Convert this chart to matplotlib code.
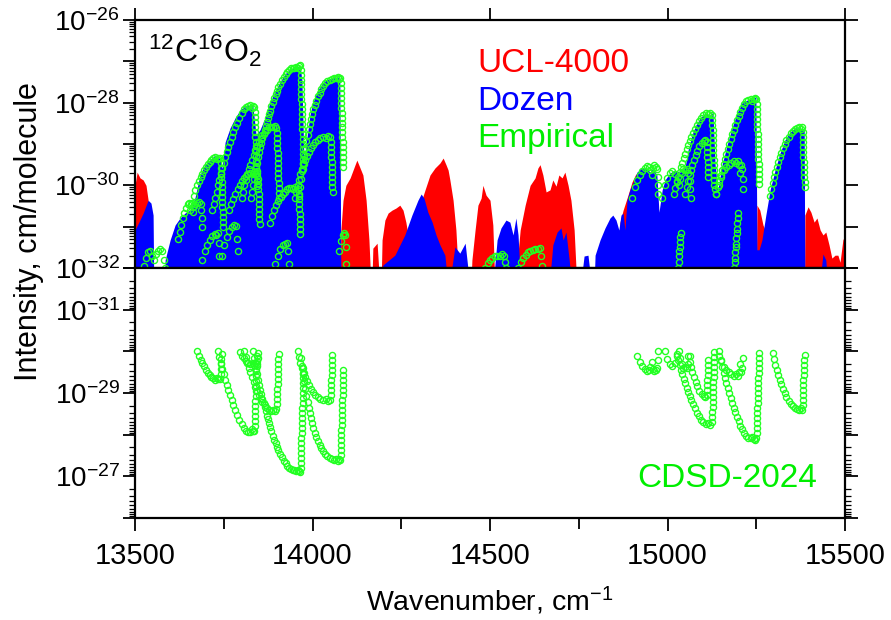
import numpy as np
import matplotlib.pyplot as plt
from matplotlib.ticker import FixedLocator, FuncFormatter, LogLocator, MultipleLocator, NullFormatter

plt.rcParams['font.family'] = ['Liberation Sans', 'DejaVu Sans']
plt.rcParams['mathtext.fontset'] = 'custom'
plt.rcParams['mathtext.rm'] = 'Liberation Sans'
plt.rcParams['mathtext.it'] = 'Liberation Sans:italic'
plt.rcParams['mathtext.bf'] = 'Liberation Sans:bold'

# ---- data: wavenumber (cm-1) and log10(intensity) ----
# UCL-4000 envelope (red)
ucl_wn = [13500, 13506, 13514, 13523, 13531, 13537, 13542, 13548, 14077, 14080,
          14086, 14094, 14106, 14120, 14125, 14134, 14142, 14151, 14159, 14165,
          14167, 14170, 14182, 14190, 14193, 14196, 14204, 14213, 14224, 14235,
          14246, 14255, 14263, 14269, 14280, 14292, 14303, 14317, 14331, 14345,
          14359, 14368, 14376, 14382, 14387, 14396, 14404, 14413, 14446, 14449,
          14458, 14466, 14475, 14480, 14489, 14500, 14508, 14514, 14573, 14576,
          14585, 14599, 14613, 14627, 14635, 14641, 14649, 14658, 14669, 14677,
          14686, 14694, 14703, 14711, 14720, 14728, 14737, 14745, 14862, 14866,
          14875, 14889, 14900, 14911, 14914, 14920, 15250, 15252, 15260, 15269,
          15277, 15282, 15386, 15387, 15396, 15404, 15413, 15421, 15430, 15438,
          15446, 15455, 15463, 15472, 15480, 15486, 15494, 15500]
ucl_lg = [-30.0, -29.68, -29.82, -29.87, -30.0, -30.36, -31.08, -32.5, -32.5, -31.08,
          -30.36, -30.0, -29.82, -29.5, -29.39, -29.58, -29.75, -30.36, -31.32, -32.5,
          -32.5, -31.52, -31.4, -32.5, -32.5, -31.32, -30.84, -30.67, -30.6, -30.55,
          -30.48, -30.6, -30.89, -31.2, -30.79, -30.65, -30.48, -30.11, -29.75, -29.58,
          -29.46, -29.34, -29.5, -29.63, -29.87, -30.36, -31.08, -32.5, -32.5, -31.81,
          -31.08, -30.48, -30.31, -30.0, -30.24, -30.36, -30.96, -32.5, -32.5, -31.93,
          -31.08, -30.48, -30.0, -29.82, -29.58, -29.5, -29.75, -30.16, -30.11, -29.87,
          -30.02, -29.75, -29.82, -29.68, -30.0, -30.36, -31.08, -32.5, -32.5, -30.9,
          -30.6, -30.23, -29.92, -29.72, -29.75, -32.5, -32.5, -30.48, -30.6, -30.96,
          -31.13, -32.5, -32.5, -30.72, -30.52, -30.65, -30.89, -30.79, -31.08, -31.2,
          -31.13, -31.44, -31.76, -31.69, -31.69, -31.86, -31.32, -31.2]

# Dozen envelope (blue)
dozen_wn = [13500, 13511, 13523, 13537, 13545, 13551, 13553, 13582, 13585, 13599,
            13613, 13627, 13641, 13655, 13669, 13683, 13697, 13711, 13725, 13739,
            13745, 13754, 13768, 13782, 13796, 13810, 13824, 13832, 13841, 13852,
            13866, 13880, 13894, 13908, 13923, 13937, 13951, 13965, 13970, 13976,
            13985, 13993, 14001, 14015, 14030, 14044, 14058, 14072, 14077, 14080,
            14196, 14198, 14232, 14260, 14280, 14297, 14306, 14314, 14325, 14337,
            14348, 14359, 14373, 14382, 14384, 14401, 14415, 14430, 14444, 14508,
            14520, 14531, 14545, 14556, 14565, 14573, 14579, 14587, 14666, 14677,
            14689, 14700, 14706, 14714, 14723, 14731, 14754, 14765, 14776, 14787,
            14793, 14796, 14810, 14824, 14838, 14846, 14855, 14863, 14869, 14875,
            14880, 14886, 14894, 14906, 14914, 14928, 14939, 14951, 14959, 14970,
            14976, 14985, 14993, 15007, 15021, 15035, 15049, 15058, 15069, 15080,
            15092, 15106, 15120, 15128, 15134, 15142, 15154, 15168, 15182, 15196,
            15210, 15224, 15238, 15249, 15252, 15258, 15266, 15277, 15289, 15303,
            15317, 15331, 15345, 15359, 15373, 15385, 15387, 15427, 15438, 15446,
            15452, 15500]
dozen_lg = [-31.08, -30.89, -30.67, -30.36, -30.43, -30.72, -32.5, -32.5, -31.8, -31.32,
            -30.96, -30.79, -30.67, -30.6, -30.3, -29.75, -29.5, -29.39, -29.27, -29.35,
            -29.6, -28.95, -28.61, -28.37, -28.18, -28.08, -28.06, -28.08, -28.78, -28.66,
            -28.37, -28.0, -27.74, -27.5, -27.3, -27.19, -27.14, -27.11, -27.45, -29.4,
            -28.8, -28.3, -28.0, -27.7, -27.5, -27.43, -27.4, -27.38, -27.4, -32.5,
            -32.5, -31.93, -31.69, -31.2, -30.72, -30.36, -30.21, -30.31, -30.65, -30.89,
            -31.2, -31.44, -31.69, -32.5, -32.5, -31.49, -31.64, -31.4, -32.5, -32.5,
            -31.32, -31.03, -30.84, -30.89, -31.2, -30.79, -31.2, -32.5, -32.5, -31.44,
            -31.13, -31.03, -31.32, -31.13, -31.8, -32.5, -32.5, -31.71, -31.69, -32.5,
            -32.5, -31.69, -31.32, -31.03, -30.79, -30.72, -30.84, -31.08, -30.72, -30.67,
            -31.08, -30.36, -30.11, -29.87, -29.68, -29.58, -29.58, -29.68, -29.58, -29.75,
            -30.65, -30.11, -29.87, -29.7, -29.63, -29.68, -29.58, -29.15, -28.78, -28.54,
            -28.37, -28.25, -28.3, -28.23, -29.5, -30.11, -29.5, -29.02, -28.61, -28.25,
            -28.0, -27.94, -27.9, -27.86, -31.56, -31.56, -31.32, -30.72, -30.11, -29.63,
            -29.22, -28.9, -28.71, -28.61, -28.61, -28.66, -32.5, -32.5, -31.66, -31.81,
            -32.5, -32.5]

# Empirical line lists (green circles), one list per band branch
emp_wn = [
    [13525, 13531, 13537, 13543, 13548, 13553, 13559, 13565, 13571, 13577, 13582, 13585],
    [13622, 13626, 13630, 13634, 13638, 13643, 13648, 13653, 13658, 13662, 13664, 13666,
     13670, 13675, 13680, 13685, 13687, 13689, 13690],
    [13655, 13660, 13665, 13670, 13675, 13680, 13685, 13690, 13695, 13700, 13705, 13710,
     13715, 13720, 13725, 13730, 13735, 13740, 13742, 13742, 13743, 13743, 13744, 13744,
     13745, 13745, 13746, 13746, 13747, 13747, 13748, 13748],
    [13690, 13697, 13704, 13711, 13718, 13724, 13729, 13733, 13736, 13738],
    [13718, 13722, 13726, 13730, 13734, 13738, 13742, 13746, 13750, 13754, 13758, 13762,
     13767, 13772, 13777, 13782, 13788, 13794, 13800, 13806, 13812, 13818, 13824, 13829,
     13833, 13836, 13837, 13837, 13838, 13838, 13839, 13839, 13840, 13840, 13841, 13841,
     13842, 13842, 13843, 13843, 13844, 13844],
    [13745, 13752, 13759, 13766, 13773, 13779, 13784, 13787, 13789],
    [13765, 13771, 13777, 13783, 13789, 13795, 13801, 13807, 13813, 13819, 13825, 13831,
     13836, 13841, 13845, 13846, 13847, 13847, 13848, 13848, 13849, 13849, 13850, 13850,
     13851],
    [13800, 13804, 13808, 13812, 13816, 13820, 13824, 13829, 13834, 13839, 13844, 13849,
     13854, 13859, 13865, 13871, 13877, 13883, 13889, 13894, 13898, 13900, 13900, 13901,
     13901, 13902, 13902, 13903, 13903, 13904, 13904, 13905, 13905, 13906, 13906],
    [13826, 13829, 13832, 13835, 13838, 13841, 13844, 13847, 13850, 13853, 13856, 13859,
     13862, 13865, 13868, 13871, 13874, 13877, 13880, 13884, 13888, 13892, 13896, 13900,
     13904, 13909, 13914, 13919, 13924, 13929, 13934, 13939, 13944, 13949, 13954, 13958,
     13962, 13965, 13967, 13968, 13968, 13968, 13969, 13969, 13969, 13970, 13970, 13970,
     13971, 13971, 13971, 13972, 13972, 13972, 13973, 13973, 13973, 13974, 13974],
    [13880, 13886, 13892, 13898, 13904, 13910, 13916, 13922, 13928, 13934, 13940, 13946,
     13952, 13958, 13961, 13962, 13963, 13963, 13964, 13964, 13965, 13965, 13966],
    [13895, 13902, 13909, 13916, 13922, 13928, 13932, 13934],
    [13950, 13954, 13958, 13962, 13966, 13970, 13975, 13980, 13985, 13990, 13996, 14002,
     14008, 14015, 14022, 14030, 14038, 14045, 14050, 14052, 14052, 14053, 14053, 14054,
     14054, 14055, 14055, 14056, 14056, 14057],
    [13962, 13965, 13968, 13971, 13974, 13977, 13980, 13983, 13986, 13989, 13992, 13995,
     13998, 14002, 14006, 14010, 14015, 14020, 14025, 14030, 14036, 14042, 14048, 14054,
     14060, 14066, 14071, 14075, 14078, 14079, 14079, 14080, 14080, 14081, 14081, 14082,
     14082, 14083, 14083, 14084, 14084, 14085, 14085, 14086, 14086, 14087, 14087],
    [14075, 14080, 14085, 14089, 14092, 14094, 14095],
    [14486, 14493, 14500, 14507, 14514, 14521, 14528, 14534, 14540, 14543, 14545],
    [14579, 14586, 14593, 14600, 14607, 14614, 14621, 14628, 14635, 14641, 14645, 14647],
    [14900, 14908, 14915, 14922, 14929, 14936, 14942, 14947, 14951, 14955, 14959, 14963,
     14967, 14970, 14972, 14973, 14974],
    [14985, 14992, 14999, 15006, 15013, 15020, 15026, 15031, 15035, 15040, 15045, 15050,
     15055, 15059, 15062, 15064, 15065],
    [15030, 15031, 15032, 15033, 15034, 15035, 15036, 15037],
    [15018, 15022, 15026, 15030, 15034, 15038, 15042, 15046, 15050, 15054, 15058, 15062,
     15067, 15072, 15077, 15083, 15089, 15095, 15101, 15108, 15115, 15121, 15125, 15126,
     15126, 15127, 15127, 15128, 15128, 15129, 15129, 15130, 15130, 15131, 15131, 15132,
     15132, 15133],
    [15050, 15054, 15058, 15062, 15066, 15070, 15074, 15079, 15084, 15090, 15096, 15102,
     15107, 15110, 15111, 15112, 15112, 15113, 15113, 15114, 15114],
    [15138, 15145, 15152, 15159, 15166, 15173, 15180, 15187, 15193, 15198, 15202, 15205,
     15208, 15210, 15212, 15213],
    [15138, 15142, 15146, 15150, 15154, 15158, 15162, 15166, 15170, 15174, 15178, 15182,
     15186, 15190, 15195, 15200, 15205, 15210, 15216, 15222, 15228, 15234, 15239, 15243,
     15247, 15250, 15251, 15251, 15252, 15252, 15253, 15253, 15254, 15254, 15255, 15255,
     15256, 15256, 15257, 15257, 15258, 15258, 15259],
    [15188, 15189, 15190, 15191, 15192, 15193, 15194, 15195, 15196, 15197, 15198, 15199],
    [15288, 15292, 15296, 15300, 15304, 15308, 15312, 15316, 15320, 15325, 15330, 15335,
     15341, 15347, 15353, 15359, 15365, 15371, 15376, 15380, 15381, 15381, 15382, 15382,
     15383, 15383, 15384, 15384, 15385, 15385, 15386, 15386],
]
emp_lg = [
    [-31.95, -31.75, -31.62, -31.58, -31.7, -31.8, -31.65, -31.58, -31.55, -31.6, -31.8, -32.0],
    [-31.3, -31.12, -30.95, -30.8, -30.67, -30.55, -30.46, -30.42, -30.45, -30.52, -30.65, -30.5,
     -30.44, -30.42, -30.4, -30.45, -30.6, -30.8, -31.0],
    [-30.6, -30.42, -30.26, -30.12, -30.0, -29.9, -29.8, -29.72, -29.64, -29.56, -29.49, -29.43,
     -29.38, -29.35, -29.32, -29.36, -29.33, -29.34, -29.45, -29.57, -29.69, -29.81, -29.93, -30.05,
     -30.17, -30.29, -30.41, -30.53, -30.65, -30.77, -30.89, -31.0],
    [-31.8, -31.6, -31.45, -31.32, -31.22, -31.18, -31.2, -31.15, -31.4, -31.7],
    [-30.6, -30.45, -30.3, -30.15, -30.0, -29.86, -29.72, -29.58, -29.45, -29.32, -29.2, -29.08,
     -28.95, -28.83, -28.72, -28.6, -28.48, -28.36, -28.25, -28.16, -28.1, -28.07, -28.06, -28.14,
     -28.08, -28.1, -28.22, -28.34, -28.46, -28.58, -28.7, -28.82, -28.94, -29.06, -29.18, -29.3,
     -29.42, -29.54, -29.66, -29.78, -29.9, -30.02],
    [-31.7, -31.45, -31.25, -31.1, -31.0, -30.95, -30.98, -31.3, -31.6],
    [-30.6, -30.45, -30.32, -30.2, -30.08, -29.98, -29.9, -29.83, -29.77, -29.73, -29.7, -29.72,
     -29.68, -29.72, -29.7, -29.85, -29.97, -30.09, -30.21, -30.33, -30.45, -30.57, -30.69, -30.81,
     -30.93],
    [-30.3, -30.15, -30.0, -29.86, -29.73, -29.61, -29.5, -29.38, -29.26, -29.15, -29.05, -28.96,
     -28.87, -28.79, -28.71, -28.65, -28.6, -28.58, -28.6, -28.57, -28.62, -28.74, -28.86, -28.98,
     -29.1, -29.22, -29.34, -29.46, -29.58, -29.7, -29.82, -29.94, -30.06, -30.18, -30.3],
    [-30.3, -30.15, -30.0, -29.85, -29.72, -29.58, -29.45, -29.32, -29.2, -29.08, -28.97, -28.86,
     -28.76, -28.66, -28.56, -28.46, -28.37, -28.28, -28.19, -28.08, -27.98, -27.88, -27.79, -27.71,
     -27.63, -27.54, -27.46, -27.38, -27.31, -27.25, -27.2, -27.17, -27.15, -27.16, -27.13, -27.16,
     -27.12, -27.1, -27.2, -27.32, -27.44, -27.56, -27.68, -27.8, -27.92, -28.04, -28.16, -28.28,
     -28.4, -28.52, -28.64, -28.76, -28.88, -29.0, -29.12, -29.24, -29.36, -29.48, -29.6],
    [-30.9, -30.74, -30.6, -30.48, -30.38, -30.29, -30.21, -30.15, -30.1, -30.07, -30.06, -30.08,
     -30.05, -30.1, -30.22, -30.34, -30.46, -30.58, -30.7, -30.82, -30.94, -31.06, -31.18],
    [-31.9, -31.7, -31.55, -31.45, -31.42, -31.4, -31.6, -31.9],
    [-30.3, -30.15, -30.0, -29.86, -29.73, -29.61, -29.49, -29.38, -29.28, -29.19, -29.1, -29.02,
     -28.95, -28.9, -28.86, -28.83, -28.85, -28.8, -28.84, -28.96, -29.08, -29.2, -29.32, -29.44,
     -29.56, -29.68, -29.8, -29.92, -30.04, -30.16],
    [-30.25, -30.05, -29.85, -29.65, -29.46, -29.28, -29.1, -28.93, -28.78, -28.64, -28.51, -28.39,
     -28.28, -28.16, -28.05, -27.95, -27.85, -27.76, -27.68, -27.6, -27.53, -27.48, -27.44, -27.42,
     -27.4, -27.41, -27.38, -27.42, -27.4, -27.52, -27.64, -27.76, -27.88, -28.0, -28.12, -28.24,
     -28.36, -28.48, -28.6, -28.72, -28.84, -28.96, -29.08, -29.2, -29.32, -29.44, -29.56],
    [-31.6, -31.35, -31.2, -31.15, -31.2, -31.5, -31.9],
    [-32.0, -31.88, -31.8, -31.76, -31.72, -31.7, -31.72, -31.67, -31.7, -31.85, -32.0],
    [-32.0, -31.85, -31.75, -31.68, -31.62, -31.58, -31.56, -31.53, -31.55, -31.52, -31.7, -31.95],
    [-30.3, -30.05, -29.88, -29.75, -29.65, -29.57, -29.53, -29.55, -29.62, -29.75, -29.58, -29.52,
     -29.55, -29.6, -29.8, -30.0, -30.2],
    [-30.3, -30.0, -29.82, -29.7, -29.65, -29.72, -29.9, -30.0, -29.85, -29.7, -29.6, -29.62,
     -29.6, -29.7, -29.9, -30.1, -30.3],
    [-32.0, -31.85, -31.72, -31.6, -31.48, -31.36, -31.25, -31.15],
    [-30.2, -30.06, -29.93, -29.8, -29.68, -29.56, -29.45, -29.34, -29.23, -29.13, -29.03, -28.93,
     -28.83, -28.73, -28.63, -28.53, -28.44, -28.36, -28.3, -28.26, -28.28, -28.24, -28.3, -28.42,
     -28.54, -28.66, -28.78, -28.9, -29.02, -29.14, -29.26, -29.38, -29.5, -29.62, -29.74, -29.86,
     -29.98, -30.1],
    [-30.2, -30.04, -29.89, -29.75, -29.62, -29.5, -29.39, -29.27, -29.16, -29.06, -28.98, -28.93,
     -28.9, -28.95, -29.07, -29.19, -29.31, -29.43, -29.55, -29.67, -29.79],
    [-30.2, -30.0, -29.8, -29.63, -29.55, -29.5, -29.45, -29.42, -29.45, -29.4, -29.5, -29.7,
     -29.5, -29.6, -29.85, -30.1],
    [-30.2, -30.05, -29.9, -29.76, -29.62, -29.49, -29.36, -29.23, -29.11, -28.99, -28.87, -28.76,
     -28.65, -28.54, -28.43, -28.32, -28.22, -28.13, -28.04, -27.97, -27.93, -27.91, -27.95, -27.9,
     -27.88, -27.92, -28.04, -28.16, -28.28, -28.4, -28.52, -28.64, -28.76, -28.88, -29.0, -29.12,
     -29.24, -29.36, -29.48, -29.6, -29.72, -29.84, -29.96],
    [-32.0, -31.86, -31.75, -31.62, -31.5, -31.41, -31.27, -31.15, -31.05, -30.9, -30.8, -30.66],
    [-30.25, -30.1, -29.95, -29.81, -29.68, -29.55, -29.43, -29.32, -29.21, -29.1, -29.0, -28.91,
     -28.82, -28.74, -28.68, -28.63, -28.62, -28.6, -28.63, -28.6, -28.72, -28.84, -28.96, -29.08,
     -29.2, -29.32, -29.44, -29.56, -29.68, -29.8, -29.92, -30.04],
]

# CDSD-2024 lines shown in the lower panel: same bands, only above this cut
cdsd_cut = -30.0

top_decades = [-32, -30, -28, -26]
bottom_decades = [-31, -29, -27]
x_major = [13500, 14000, 14500, 15000, 15500]

RED = '#ff0000'
BLUE = '#0000ff'
GREEN = '#00ee00'
CIRCLE = '#22ff22'


def decade_formatter(shown):
    def fmt(v, pos):
        e = int(round(np.log10(v)))
        return r'$10^{%d}$' % e if e in shown else ''
    return FuncFormatter(fmt)


def style_axis(ax, shown):
    ax.set_yscale('log')
    ax.set_xlim(13500, 15500)
    ax.yaxis.set_major_locator(FixedLocator([10.0 ** e for e in range(-32, -25)]))
    ax.yaxis.set_minor_locator(LogLocator(base=10, subs=np.arange(2, 10), numticks=100))
    ax.yaxis.set_major_formatter(decade_formatter(shown))
    ax.yaxis.set_minor_formatter(NullFormatter())
    ax.xaxis.set_major_locator(FixedLocator(x_major))
    ax.xaxis.set_minor_locator(MultipleLocator(250))
    ax.tick_params(axis='both', which='major', direction='out', length=9, width=1.3)
    ax.tick_params(axis='y', which='minor', direction='out', length=4.5, width=0.9)
    ax.tick_params(axis='x', which='minor', direction='out', length=8, width=1.3)
    ax.tick_params(axis='y', which='major', labelsize=20, pad=2)
    ax.tick_params(axis='x', which='major', labelsize=21, pad=8)
    for sp in ax.spines.values():
        sp.set_linewidth(1.6)


fig = plt.figure(figsize=(8.91, 6.20), dpi=100)
ax1 = fig.add_axes([135 / 891, 1 - 268 / 620, 710 / 891, 248 / 620])
ax2 = fig.add_axes([135 / 891, 1 - 518 / 620, 710 / 891, 250 / 620])

all_wn = np.concatenate([np.asarray(b, dtype=float) for b in emp_wn])
all_lg = np.concatenate([np.asarray(b, dtype=float) for b in emp_lg])

# upper panel
ax1.fill_between(ucl_wn, 1e-33, 10.0 ** np.asarray(ucl_lg), color=RED, lw=0, zorder=1)
ax1.fill_between(dozen_wn, 1e-33, 10.0 ** np.asarray(dozen_lg), color=BLUE, lw=0, zorder=2)
ax1.plot(all_wn, 10.0 ** all_lg, 'o', ms=4.4, mfc='none', mec=CIRCLE, mew=1.0, zorder=3)
style_axis(ax1, top_decades)
ax1.set_ylim(1e-32, 1e-26)
ax1.tick_params(axis='x', which='major', top=True, bottom=True, labelbottom=False)
ax1.tick_params(axis='x', which='minor', top=False, bottom=True)
ax1.tick_params(axis='y', which='major', right=True)
ax1.tick_params(axis='y', which='minor', right=False)

ax1.text(0.018, 0.83, r'$^{12}$C$^{16}$O$_2$', transform=ax1.transAxes,
         fontsize=23, ha='left', va='baseline')
ax1.text(0.482, 0.79, 'UCL-4000', color=RED, transform=ax1.transAxes,
         fontsize=24, ha='left', va='baseline')
ax1.text(0.482, 0.637, 'Dozen', color=BLUE, transform=ax1.transAxes,
         fontsize=24, ha='left', va='baseline')
ax1.text(0.482, 0.488, 'Empirical', color=GREEN, transform=ax1.transAxes,
         fontsize=24, ha='left', va='baseline')

# lower panel (inverted intensity axis)
keep = all_lg >= cdsd_cut - 1e-9
ax2.plot(all_wn[keep], 10.0 ** all_lg[keep], 'o', ms=4.4, mfc='none', mec=CIRCLE,
         mew=1.0, zorder=3)
style_axis(ax2, bottom_decades)
ax2.set_ylim(1e-26, 1e-32)
ax2.tick_params(axis='x', which='both', top=False, bottom=True)
ax2.tick_params(axis='y', which='both', right=True)
ax2.text(0.708, 0.124, 'CDSD-2024', color=GREEN, transform=ax2.transAxes,
         fontsize=24, ha='left', va='baseline')

fig.text(0.032, 0.627, 'Intensity, cm/molecule', rotation=90, fontsize=22,
         ha='center', va='center')
fig.text(0.55, 0.031, r'Wavenumber, cm$^{-1}$', fontsize=20.5, ha='center', va='center')

fig.savefig('out.png', dpi=100)
